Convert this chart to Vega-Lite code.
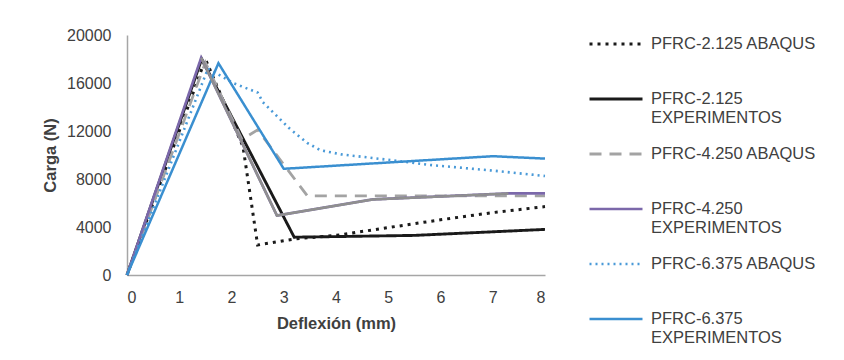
{
  "$schema": "https://vega.github.io/schema/vega-lite/v6.json",
  "width": 418,
  "height": 240,
  "autosize": {"type": "none"},
  "padding": {"left": 127, "top": 35, "right": 299, "bottom": 85},
  "background": "white",
  "config": {
    "font": "Liberation Sans",
    "view": {"stroke": null},
    "axis": {"grid": false, "ticks": false, "domainColor": "#a6a6a6", "domainWidth": 1.5, "labelColor": "#404040", "labelFontSize": 16, "titleColor": "#404040", "titleFontSize": 16.5, "titleFontWeight": "bold", "labelFont": "Liberation Sans", "titleFont": "Liberation Sans"},
    "legend": {"labelFont": "Liberation Sans", "labelFontSize": 16.5, "labelColor": "#404040"}
  },
  "datasets": {
    "main": [
      {"series": "PFRC-2.125 ABAQUS", "x": 0, "y": 0},
      {"series": "PFRC-2.125 ABAQUS", "x": 1.5, "y": 18000},
      {"series": "PFRC-2.125 ABAQUS", "x": 2.22, "y": 10700},
      {"series": "PFRC-2.125 ABAQUS", "x": 2.5, "y": 2500},
      {"series": "PFRC-2.125 ABAQUS", "x": 3.2, "y": 3000},
      {"series": "PFRC-2.125 ABAQUS", "x": 4, "y": 3300},
      {"series": "PFRC-2.125 ABAQUS", "x": 5, "y": 3950},
      {"series": "PFRC-2.125 ABAQUS", "x": 6, "y": 4600},
      {"series": "PFRC-2.125 ABAQUS", "x": 7, "y": 5200},
      {"series": "PFRC-2.125 ABAQUS", "x": 8, "y": 5700},
      {"series": "PFRC-2.125 EXPERIMENTOS", "x": 0, "y": 0},
      {"series": "PFRC-2.125 EXPERIMENTOS", "x": 1.43, "y": 18000},
      {"series": "PFRC-2.125 EXPERIMENTOS", "x": 3.2, "y": 3150},
      {"series": "PFRC-2.125 EXPERIMENTOS", "x": 5.5, "y": 3300},
      {"series": "PFRC-2.125 EXPERIMENTOS", "x": 8, "y": 3800},
      {"series": "PFRC-4.250 ABAQUS", "x": 0, "y": 0},
      {"series": "PFRC-4.250 ABAQUS", "x": 1.5, "y": 17700},
      {"series": "PFRC-4.250 ABAQUS", "x": 2.2, "y": 11300},
      {"series": "PFRC-4.250 ABAQUS", "x": 2.5, "y": 12100},
      {"series": "PFRC-4.250 ABAQUS", "x": 3.45, "y": 6600},
      {"series": "PFRC-4.250 ABAQUS", "x": 8, "y": 6600},
      {"series": "PFRC-4.250 EXPERIMENTOS", "x": 0, "y": 0},
      {"series": "PFRC-4.250 EXPERIMENTOS", "x": 1.42, "y": 18100},
      {"series": "PFRC-4.250 EXPERIMENTOS", "x": 2.87, "y": 4950},
      {"series": "PFRC-4.250 EXPERIMENTOS", "x": 4.7, "y": 6300},
      {"series": "PFRC-4.250 EXPERIMENTOS", "x": 7.3, "y": 6800},
      {"series": "PFRC-4.250 EXPERIMENTOS", "x": 8, "y": 6800},
      {"series": "PFRC-6.375 ABAQUS", "x": 0, "y": 0},
      {"series": "PFRC-6.375 ABAQUS", "x": 1.55, "y": 17200},
      {"series": "PFRC-6.375 ABAQUS", "x": 2.03, "y": 16000},
      {"series": "PFRC-6.375 ABAQUS", "x": 2.5, "y": 15200},
      {"series": "PFRC-6.375 ABAQUS", "x": 2.6, "y": 14400},
      {"series": "PFRC-6.375 ABAQUS", "x": 3.1, "y": 12250},
      {"series": "PFRC-6.375 ABAQUS", "x": 3.45, "y": 11000},
      {"series": "PFRC-6.375 ABAQUS", "x": 3.7, "y": 10400},
      {"series": "PFRC-6.375 ABAQUS", "x": 4.1, "y": 10050},
      {"series": "PFRC-6.375 ABAQUS", "x": 5.2, "y": 9500},
      {"series": "PFRC-6.375 ABAQUS", "x": 5.8, "y": 9170},
      {"series": "PFRC-6.375 ABAQUS", "x": 7, "y": 8700},
      {"series": "PFRC-6.375 ABAQUS", "x": 8, "y": 8250},
      {"series": "PFRC-6.375 EXPERIMENTOS", "x": 0, "y": 0},
      {"series": "PFRC-6.375 EXPERIMENTOS", "x": 1.75, "y": 17650},
      {"series": "PFRC-6.375 EXPERIMENTOS", "x": 3.0, "y": 8850},
      {"series": "PFRC-6.375 EXPERIMENTOS", "x": 7, "y": 9900},
      {"series": "PFRC-6.375 EXPERIMENTOS", "x": 8, "y": 9700}
    ],
    "overlay": [
      {"x": 1.42, "y": 18100},
      {"x": 2.87, "y": 4950},
      {"x": 4.7, "y": 6300},
      {"x": 7.3, "y": 6800}
    ]
  },
  "layer": [
    {
      "data": {"name": "main"},
      "mark": {"type": "line", "strokeCap": "butt"},
      "encoding": {
        "x": {"field": "x", "type": "quantitative", "scale": {"domain": [0, 8], "nice": false}, "axis": {"values": [0, 1, 2, 3, 4, 5, 6, 7, 8], "title": "Deflexión (mm)", "labelPadding": 14, "titlePadding": 10}},
        "y": {"field": "y", "type": "quantitative", "scale": {"domain": [0, 20000], "nice": false}, "axis": {"values": [0, 4000, 8000, 12000, 16000, 20000], "format": "d", "title": "Carga (N)", "labelPadding": 16, "titlePadding": 8}},
        "color": {
          "field": "series", "type": "nominal",
          "scale": {
            "domain": ["PFRC-2.125 ABAQUS", "PFRC-2.125 EXPERIMENTOS", "PFRC-4.250 ABAQUS", "PFRC-4.250 EXPERIMENTOS", "PFRC-6.375 ABAQUS", "PFRC-6.375 EXPERIMENTOS"],
            "range": ["#1a1a1a", "#1a1a1a", "#a3a3a3", "#7b68aa", "#4a9ad8", "#3a8fd0"]
          },
          "legend": {
            "title": null, "orient": "none", "legendX": 461, "legendY": -19,
            "symbolType": "stroke", "symbolSize": 2809, "rowPadding": 0, "labelOffset": 7,
            "labelFontSize": 16.5, "labelLimit": 300,
            "labelExpr": "indexof(datum.label, 'EXPERIMENTOS') > 0 ? [replace(datum.label, ' EXPERIMENTOS', ''), 'EXPERIMENTOS'] : [datum.label, '']"
          }
        },
        "strokeDash": {
          "field": "series", "type": "nominal",
          "scale": {
            "domain": ["PFRC-2.125 ABAQUS", "PFRC-2.125 EXPERIMENTOS", "PFRC-4.250 ABAQUS", "PFRC-4.250 EXPERIMENTOS", "PFRC-6.375 ABAQUS", "PFRC-6.375 EXPERIMENTOS"],
            "range": [[3, 5], [1, 0], [12, 8], [1, 0], [2, 4], [1, 0]]
          }
        },
        "strokeWidth": {
          "field": "series", "type": "nominal",
          "scale": {
            "domain": ["PFRC-2.125 ABAQUS", "PFRC-2.125 EXPERIMENTOS", "PFRC-4.250 ABAQUS", "PFRC-4.250 EXPERIMENTOS", "PFRC-6.375 ABAQUS", "PFRC-6.375 EXPERIMENTOS"],
            "range": [3, 2.5, 2.5, 2.5, 2, 3]
          }
        }
      }
    },
    {
      "data": {"name": "overlay"},
      "mark": {"type": "line", "color": "#8f8f8f", "strokeWidth": 2.5},
      "encoding": {
        "x": {"field": "x", "type": "quantitative"},
        "y": {"field": "y", "type": "quantitative"}
      }
    }
  ]
}
